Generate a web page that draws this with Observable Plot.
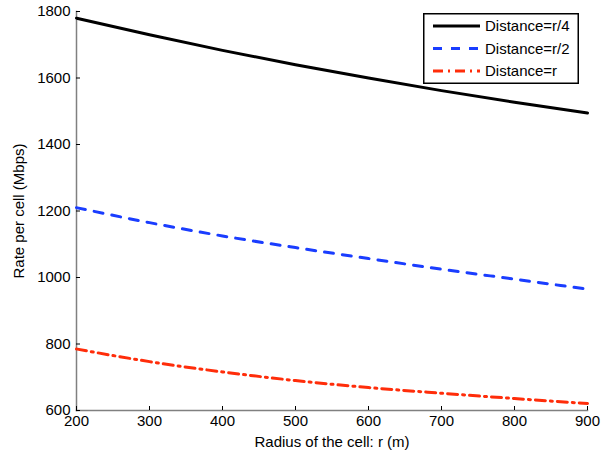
<!DOCTYPE html>
<html>
<head>
<meta charset="utf-8">
<script src="https://cdn.jsdelivr.net/npm/d3@7"></script>
<script src="https://cdn.jsdelivr.net/npm/@observablehq/plot@0.6"></script>
<style>
  html, body { margin: 0; padding: 0; background: #fff; }
  #wrap { position: relative; width: 603px; height: 453px; font-family: "Liberation Sans", Arial, Helvetica, sans-serif; }
  #legend { position: absolute; left: 423px; top: 13px; }
</style>
</head>
<body>
<div id="wrap"></div>
<script>
const radius = [200, 300, 400, 500, 600, 700, 800, 900];
const rateQuarter = [1780, 1730, 1683, 1640, 1600, 1562, 1527, 1495];
const rateHalf = [1210, 1165, 1125, 1090, 1057, 1025, 995, 965];
const rateFull = [785, 747, 716, 690, 669, 652, 636, 621];
const seriesNames = ["Distance=r/4", "Distance=r/2", "Distance=r"];
const xTicks = [200, 300, 400, 500, 600, 700, 800, 900];
const yTicks = [600, 800, 1000, 1200, 1400, 1600, 1800];

const colors = ["#000000", "#1a3dff", "#ff2d0a"];
const dashes = [null, "9,9", "10,5,2,5"];

const data = [];
[rateQuarter, rateHalf, rateFull].forEach((vals, i) => {
  vals.forEach((v, j) => data.push({series: seriesNames[i], r: radius[j], rate: v}));
});

const lines = seriesNames.map((name, i) =>
  Plot.line(data.filter(d => d.series === name), {
    x: "r", y: "rate", stroke: colors[i], strokeWidth: 3,
    strokeDasharray: dashes[i], curve: "monotone-x"
  })
);

const chart = Plot.plot({
  width: 603,
  height: 453,
  marginLeft: 76,
  marginRight: 16,
  marginTop: 11,
  marginBottom: 43,
  style: {fontFamily: '"Liberation Sans", Arial, Helvetica, sans-serif', fontSize: "15px", color: "#000", background: "#fff"},
  x: {domain: [200, 900]},
  y: {domain: [600, 1800]},
  marks: [
    Plot.frame({anchor: "left", stroke: "#808080", strokeWidth: 1.5}),
    Plot.frame({anchor: "bottom", stroke: "#808080", strokeWidth: 1.5}),
    ...lines,
    Plot.axisX({ticks: xTicks, tickSize: -4, tickPadding: 9, tickFormat: d => String(d),
      stroke: "#000", label: "Radius of the cell: r (m)", labelArrow: false, labelAnchor: "center", labelOffset: 36}),
    Plot.axisY({ticks: yTicks, tickSize: -4, tickPadding: 10, tickFormat: d => String(d),
      stroke: "#000", label: "Rate per cell (Mbps)", labelArrow: false, labelAnchor: "center", labelOffset: 63})
  ]
});

const wrap = document.getElementById("wrap");
wrap.appendChild(chart);

// legend
const lg = d3.select(wrap).append("div").attr("id", "legend");
const svg = lg.append("svg").attr("width", 156).attr("height", 71);
svg.append("rect").attr("x", 0.75).attr("y", 0.75).attr("width", 154.5).attr("height", 69.5)
  .attr("fill", "#fff").attr("stroke", "#000").attr("stroke-width", 1.5);
seriesNames.forEach((name, i) => {
  const y = 13 + i * 22.5;
  svg.append("line").attr("x1", 10).attr("x2", 57).attr("y1", y).attr("y2", y)
    .attr("stroke", colors[i]).attr("stroke-width", 3)
    .attr("stroke-dasharray", dashes[i]);
  svg.append("text").attr("x", 62).attr("y", y).attr("dy", "0.35em")
    .attr("font-size", 15).attr("font-family", '"Liberation Sans", Arial, Helvetica, sans-serif')
    .text(name);
});
</script>
</body>
</html>
